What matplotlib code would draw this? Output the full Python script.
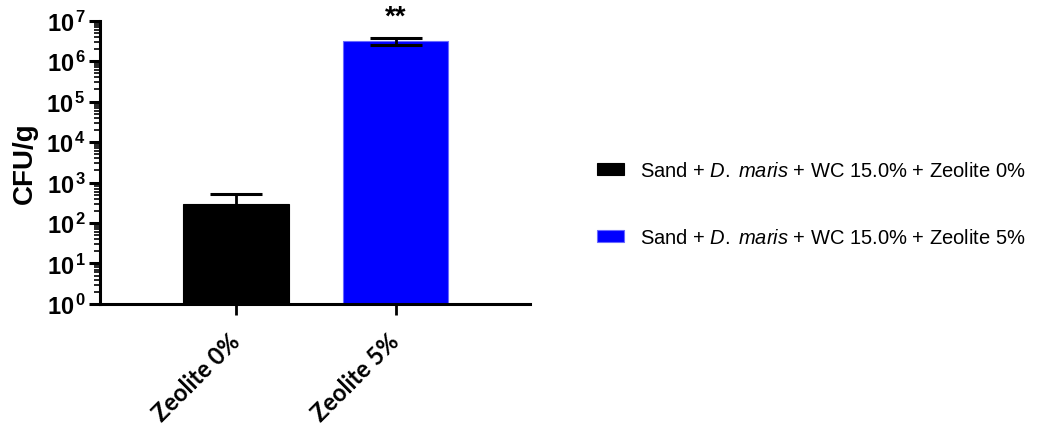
import matplotlib.pyplot as plt
from matplotlib.ticker import FixedLocator, LogLocator, NullFormatter

plt.rcParams['font.family'] = ['Liberation Sans', 'DejaVu Sans']
plt.rcParams['mathtext.fontset'] = 'custom'
plt.rcParams['mathtext.rm'] = 'Liberation Sans'
plt.rcParams['mathtext.it'] = 'Liberation Sans:italic'
plt.rcParams['mathtext.bf'] = 'Liberation Sans:bold'

# CFU counts per gram
groups = ['Zeolite 0%', 'Zeolite 5%']
cfu_mean = [290, 3.2e6]
cfu_err = [230, 0.65e6]
bar_colors = ['#000000', '#0000ff']
legend_labels = [
    r'Sand + $\mathit{D.}\;\mathit{maris}$ + WC 15.0% + Zeolite 0%',
    r'Sand + $\mathit{D.}\;\mathit{maris}$ + WC 15.0% + Zeolite 5%',
]
decades = [0, 1, 2, 3, 4, 5, 6, 7]

fig = plt.figure(figsize=(10.41, 4.27), dpi=100)
ax = fig.add_axes([0.096, 0.286, 0.413, 0.663])

x = list(range(len(groups)))
bars = ax.bar(x, cfu_mean, width=0.66, color=bar_colors, bottom=1,
              edgecolor=['#000000', '#6a6aff'], linewidth=0.8)
ax.errorbar(x, cfu_mean, yerr=cfu_err, fmt='none', ecolor='black',
            elinewidth=2, capsize=19, capthick=2.2, zorder=3)

ax.set_yscale('log')
ax.set_ylim(1, 1e7)
ax.set_xlim(-0.85, 1.84)

ax.yaxis.set_major_locator(FixedLocator([10.0 ** d for d in decades]))
ax.set_yticklabels([r'$\mathbf{10^{\,%d}}$' % d for d in decades])
ax.yaxis.set_minor_locator(LogLocator(base=10, subs=range(2, 10), numticks=20))
ax.yaxis.set_minor_formatter(NullFormatter())

ax.set_xticks(x)
ax.set_xticklabels(groups, rotation=45, ha='right', va='center',
                   rotation_mode='anchor', fontsize=17, fontweight='bold',
                   family=['Lato', 'DejaVu Sans'])
ax.set_ylabel('CFU/g', fontsize=20, fontweight='bold', labelpad=6)

for side in ['top', 'right']:
    ax.spines[side].set_visible(False)
for side in ['left', 'bottom']:
    ax.spines[side].set_linewidth(2.2)

ax.tick_params(axis='y', which='major', length=8, width=2.2, labelsize=17, pad=2)
ax.tick_params(axis='y', which='minor', length=4, width=1.2)
ax.tick_params(axis='x', which='major', length=8, width=2, pad=16)

# significance mark above the treated group
ax.text(1, 6.0e6, '**', ha='center', va='bottom', fontsize=20, fontweight='bold')

fig.legend(bars, legend_labels, loc='center left',
           bbox_to_anchor=(0.556, 0.52), frameon=False, fontsize=14.5,
           handlelength=1.35, handleheight=0.55, handletextpad=0.8,
           labelspacing=2.4)

fig.savefig('out.png', dpi=100)
